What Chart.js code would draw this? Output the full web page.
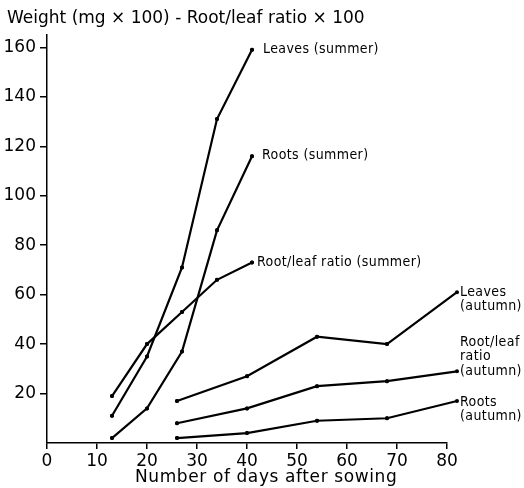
<!DOCTYPE html>
<html>
<head>
<meta charset="utf-8">
<script src="https://cdn.jsdelivr.net/npm/chart.js@4"></script>
<style>
html,body{margin:0;padding:0;background:#fff}
#wrap{width:524px;height:488px}
</style>
</head>
<body>
<div id="wrap"><canvas id="c" width="524" height="488"></canvas></div>
<script>
// days after sowing
const daysSummer = [13, 20, 27, 34, 41]
const daysAutumn = [26, 40, 54, 68, 82]
// weights (mg x 100) and root/leaf ratio x 100
const leavesSummer = [11, 35, 71, 131, 159]
const rootsSummer = [2, 14, 37, 86, 116]
const ratioSummer = [19, 40, 53, 66, 73]
const leavesAutumn = [17, 27, 43, 40, 61]
const rootsAutumn = [2, 4, 9, 10, 17]
const ratioAutumn = [8, 14, 23, 25, 29]
const xTicks = [0, 10, 20, 30, 40, 50, 60, 70, 80]
const yTicks = [20, 40, 60, 80, 100, 120, 140, 160]

const titleText = 'Weight (mg × 100) - Root/leaf ratio × 100'
const xTitle = 'Number of days after sowing'

const pts = (xs, ys) => xs.map((x, i) => ({x, y: ys[i]}))
const mk = (label, xs, ys, lines, dx, dy) => ({
  label, data: pts(xs, ys), lines, dx, dy,
  borderColor: '#000', backgroundColor: '#000', borderWidth: 2.2,
  pointRadius: 2, pointBorderWidth: 0, tension: 0, clip: false
})

const datasets = [
  mk('Leaves (summer)', daysSummer, leavesSummer, ['Leaves (summer)'], 11, 0),
  mk('Roots (summer)', daysSummer, rootsSummer, ['Roots (summer)'], 10, -1),
  mk('Root/leaf ratio (summer)', daysSummer, ratioSummer, ['Root/leaf ratio (summer)'], 5, 0),
  mk('Leaves (autumn)', daysAutumn, leavesAutumn, ['Leaves', '(autumn)'], 3, 0),
  mk('Root/leaf ratio (autumn)', daysAutumn, ratioAutumn, ['Root/leaf', 'ratio', '(autumn)'], 3, -29),
  mk('Roots (autumn)', daysAutumn, rootsAutumn, ['Roots', '(autumn)'], 3, 1)
]

const labelFont = '14px "Liberation Sans Narrow", "DejaVu Sans Condensed", sans-serif'
const mainFont = '"DejaVu Sans", sans-serif'

const annot = {
  id: 'annot',
  afterDatasetsDraw(chart) {
    // points past x=80 fall outside the chart area, draw them anyway
    const whole = {left: 0, top: 0, right: chart.width, bottom: chart.height}
    chart.data.datasets.forEach((ds, i) => {
      chart.getDatasetMeta(i).data.forEach(el => el.draw(chart.ctx, whole))
    })
  },
  afterDraw(chart) {
    const {ctx, scales: {x, y}} = chart
    ctx.save()
    ctx.fillStyle = '#000'
    ctx.textBaseline = 'middle'
    ctx.font = '17px ' + mainFont
    ctx.textAlign = 'left'
    ctx.fillText(titleText, 7, 19)
    ctx.letterSpacing = '0.6px'
    ctx.fillText(xTitle, 135, 478)
    ctx.letterSpacing = '0.4px'
    ctx.font = labelFont
    chart.data.datasets.forEach(ds => {
      const last = ds.data[ds.data.length - 1]
      const px = x.getPixelForValue(last.x) + ds.dx
      const py = y.getPixelForValue(last.y) + ds.dy
      ds.lines.forEach((t, i) => ctx.fillText(t, px, py + i * 14.5))
    })
    ctx.restore()
  }
}

new Chart(document.getElementById('c'), {
  type: 'line',
  data: {datasets},
  options: {
    responsive: false,
    animation: false,
    layout: {padding: {top: 35, right: 77, left: 0, bottom: 0}},
    plugins: {legend: {display: false}, tooltip: {enabled: false}},
    scales: {
      x: {
        type: 'linear', min: 0, max: 80,
        afterBuildTicks: s => { s.ticks = xTicks.map(v => ({value: v})) },
        afterFit: s => { s.height = 45 },
        border: {display: true, color: '#000', width: 1.5},
        grid: {display: true, drawOnChartArea: false, drawTicks: true, tickLength: 6, color: '#000', lineWidth: 1.5},
        ticks: {color: '#000', font: {family: mainFont, size: 17}, padding: 2, maxRotation: 0}
      },
      y: {
        type: 'linear', min: 0, max: 165,
        afterBuildTicks: s => { s.ticks = yTicks.map(v => ({value: v})) },
        afterFit: s => { s.width = 47 },
        border: {display: true, color: '#000', width: 1.5},
        grid: {display: true, drawOnChartArea: false, drawTicks: true, tickLength: 7, color: '#000', lineWidth: 1.5},
        ticks: {color: '#000', font: {family: mainFont, size: 17}, padding: 4}
      }
    }
  },
  plugins: [annot]
})
</script>
</body>
</html>
